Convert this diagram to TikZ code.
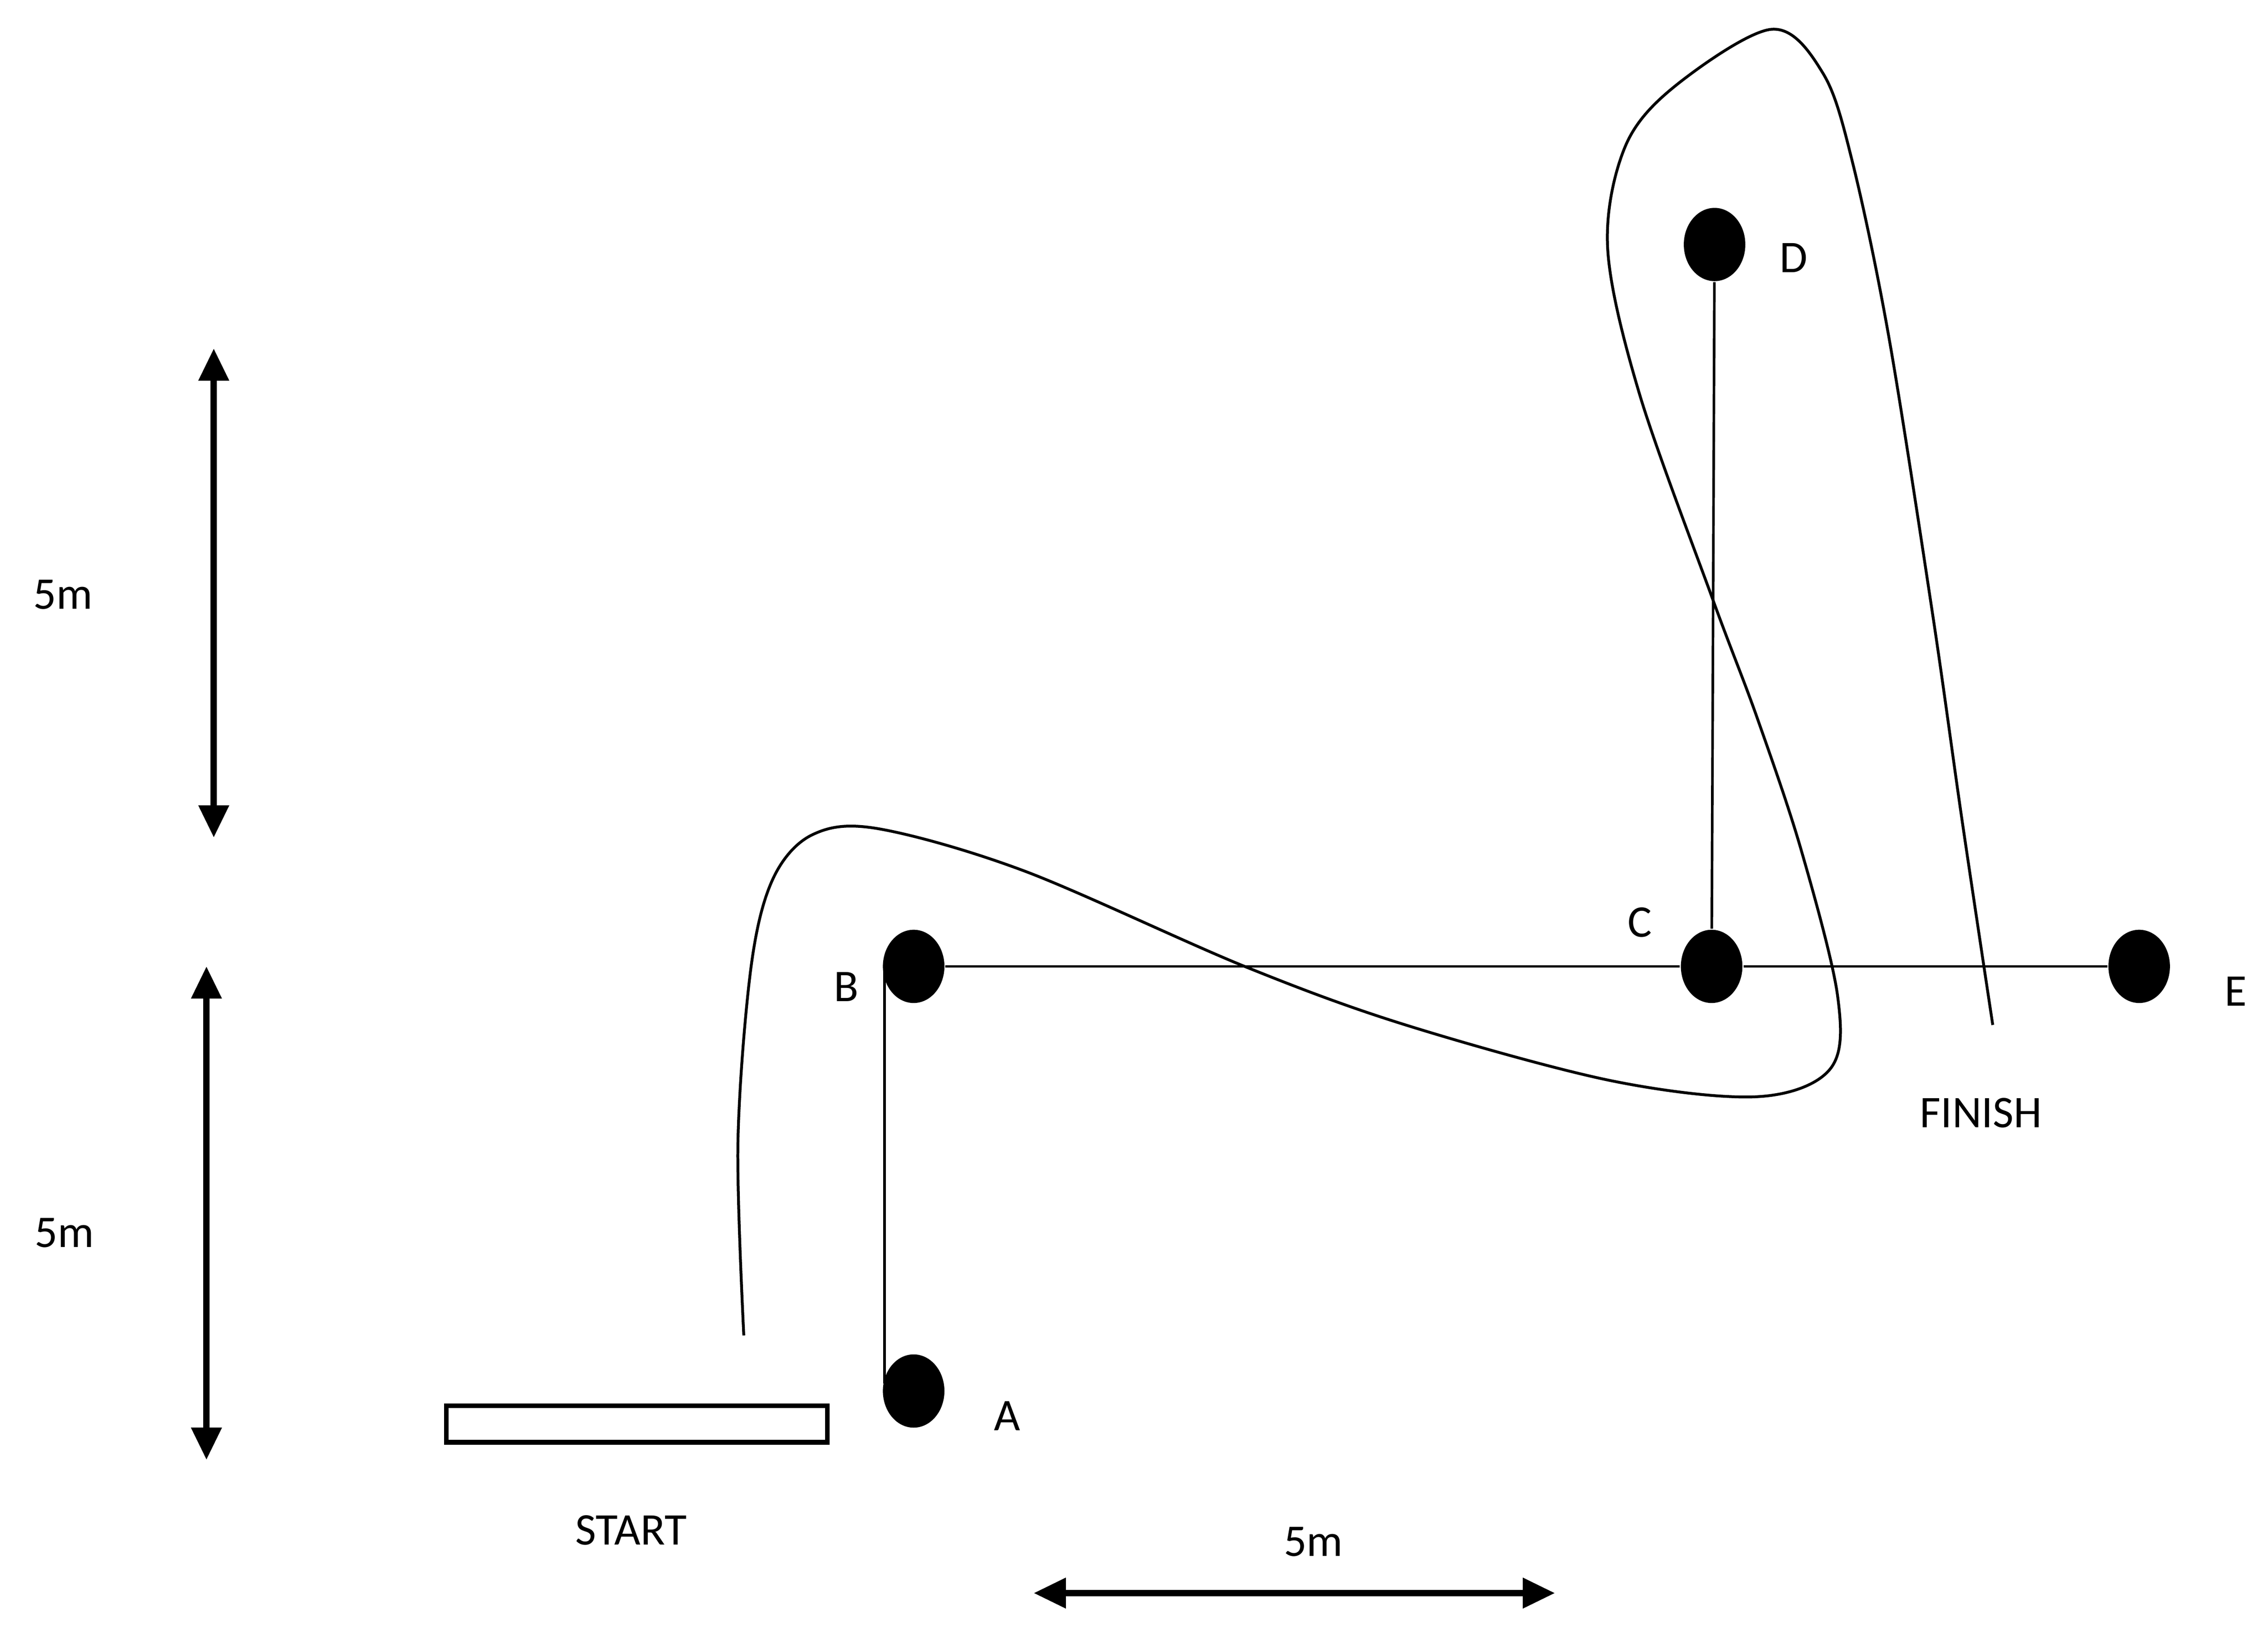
\documentclass[tikz,border=0pt]{standalone}
\usepackage{fontspec}
\setmainfont{Carlito}
\usetikzlibrary{arrows.meta,shapes.geometric}
\begin{document}
\begin{tikzpicture}[x=0.01cm,y=-0.01cm,
  dot/.style={ellipse,fill=black,minimum width=0.42cm,minimum height=0.5cm,inner sep=0},
  lab/.style={font=\fontsize{8.8}{10}\selectfont},
  dim/.style={line width=1.2pt,{Triangle[length=0.22cm,width=0.2cm]}-{Triangle[length=0.22cm,width=0.2cm]}}]
\useasboundingbox (0,0) rectangle (1549,1122);
\node[dot] (D) at (1171,167) {};
\node[dot] (C) at (1169,660) {};
\node[dot] (B) at (624,660) {};
\node[dot] (E) at (1461,660) {};
\node[dot] (A) at (624,950) {};
\coordinate (a1) at (604,660);
\coordinate (a2) at (604,945);
\draw[line width=0.5pt] (B) -- (C) -- (E);
\draw[line width=0.5pt] (C) -- (D);
\draw[line width=0.5pt] (a1) -- (a2);
\node[draw,line width=0.9pt,minimum width=2.6cm,minimum height=0.25cm,inner sep=0] (S) at (435,972.5) {};
\node[lab] (tS) at (431,1045) {START};
\node[lab] (tF) at (1353,760) {FINISH};
\node[lab] (tA) at (688,967) {A};
\node[lab] (tB) at (578,674) {B};
\node[lab] (tC) at (1120,630) {C};
\node[lab] (tD) at (1225,176) {D};
\node[lab] (tE) at (1527,677) {E};
\node[lab] (m1) at (43,406) {5m};
\node[lab] (m2) at (44,842) {5m};
\node[lab] (m3) at (897,1053) {5m};
\coordinate (v1a) at (146,238); \coordinate (v1b) at (146,572);
\coordinate (v2a) at (141,660); \coordinate (v2b) at (141,997);
\coordinate (h1a) at (706,1088); \coordinate (h1b) at (1062,1088);
\draw[dim] (v1a) -- (v1b);
\draw[dim] (v2a) -- (v2b);
\draw[dim] (h1a) -- (h1b);
\draw[line width=0.55pt] plot[smooth,tension=0.55] coordinates {(508,912) (504,780) (513,660) (528,600) (555,570) (600,566) (700,595) (850,660) (960,700) (1100,738) (1200,749) (1250,730) (1255,680) (1230,580) (1200,490) (1170,410) (1120,270) (1098,170) (1110,100) (1145,58) (1210,20) (1245,50) (1265,110) (1290,230) (1320,420) (1340,560) (1361,700)};
\end{tikzpicture}
\end{document}
